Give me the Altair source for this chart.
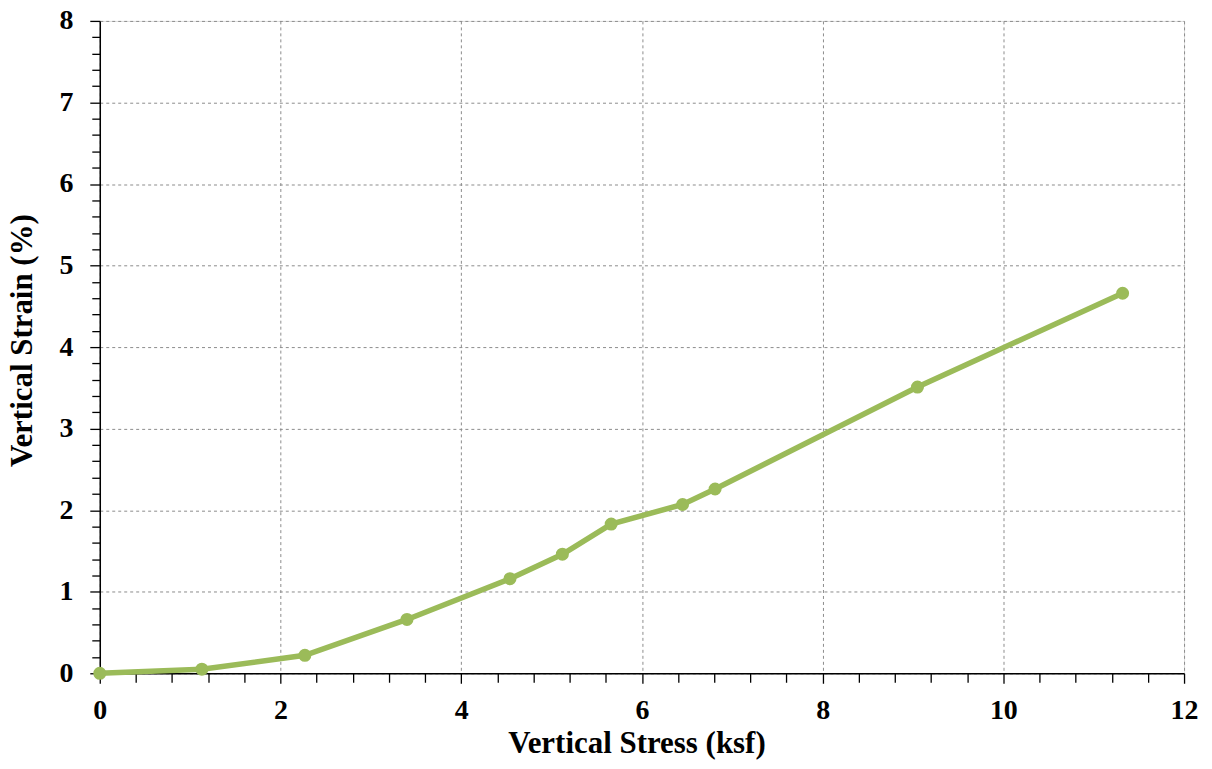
import altair as alt
import pandas as pd

stress = [0.0, 1.13, 2.27, 3.40, 4.54, 5.12, 5.66, 6.45, 6.81, 9.05, 11.32]
strain = [0.0, 0.05, 0.22, 0.66, 1.16, 1.46, 1.83, 2.07, 2.26, 3.51, 4.66]

x_ticks = [round(i * 0.4, 1) for i in range(31)]
y_ticks = [round(i * 0.2, 1) for i in range(41)]

df = pd.DataFrame({"stress": stress, "strain": strain})

FONT = "Liberation Serif"
GREEN = "#9BBB59"

def major(step):
    return f"abs(datum.value - round(datum.value/{step})*{step}) < 0.001"

x_axis = alt.Axis(
    values=x_ticks,
    labelExpr=f"{major(2)} ? format(datum.value, 'd') : ''",
    labelFont=FONT, labelFontWeight="bold", labelFontSize=28, labelColor="black",
    labelPadding=13, labelOverlap=False, labelFlush=False,
    tickColor="black", tickWidth=1.3,
    tickSize={"condition": {"test": major(2), "value": 10}, "value": 9},
    domainColor="black", domainWidth=1.5,
    grid=True, gridColor="#8c8c8c", gridDash=[3, 3], gridWidth=1,
    gridOpacity={"condition": {"test": major(2), "value": 1}, "value": 0},
    title="Vertical Stress (ksf)", titleFont=FONT, titleFontWeight="bold",
    titleFontSize=31, titleColor="black", titleBaseline="alphabetic",
    titleX=538, titleY=79,
)

y_axis = alt.Axis(
    values=y_ticks,
    labelExpr=f"{major(1)} ? format(datum.value, 'd') : ''",
    labelFont=FONT, labelFontWeight="bold", labelFontSize=28, labelColor="black",
    labelPadding=17, labelOverlap=False, labelFlush=False,
    tickColor="black", tickWidth=1.3,
    tickSize={"condition": {"test": major(1), "value": 10}, "value": 8},
    domainColor="black", domainWidth=1.5,
    grid=True, gridColor="#8c8c8c", gridDash=[3, 3], gridWidth=1,
    gridOpacity={"condition": {"test": major(1), "value": 1}, "value": 0},
    title="Vertical Strain (%)", titleFont=FONT, titleFontWeight="bold",
    titleFontSize=31, titleColor="black", titleBaseline="alphabetic",
    titleX=-68, titleY=320, titleAngle=270,
)

base = alt.Chart(df).encode(
    x=alt.X("stress:Q", scale=alt.Scale(domain=[0, 12], nice=False), axis=x_axis),
    y=alt.Y("strain:Q", scale=alt.Scale(domain=[0, 8], nice=False), axis=y_axis),
)

line = base.mark_line(color=GREEN, strokeWidth=5.5)
pts = base.mark_point(filled=True, color=GREEN, size=170, opacity=1)

chart = (line + pts).properties(
    width=1087, height=654,
    autosize=alt.AutoSizeParams(type="none"),
    padding={"left": 92, "top": 12, "right": 20, "bottom": 87},
).configure_view(stroke="black", strokeWidth=1.5).configure(background="white")

chart.save("out.html", embed_options={"renderer": "svg", "actions": False})
